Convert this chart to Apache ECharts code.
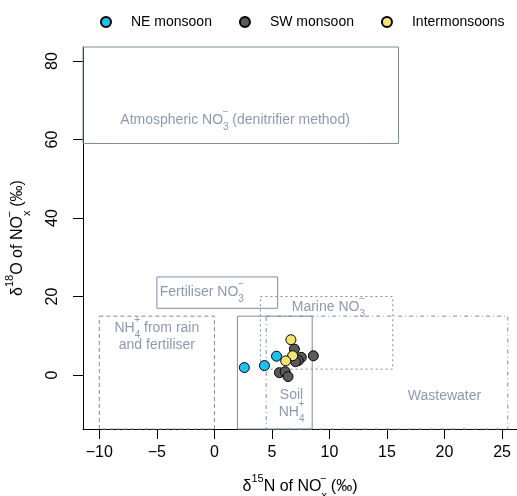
<!DOCTYPE html>
<html>
<head>
<meta charset="utf-8">
<script src="https://cdn.jsdelivr.net/npm/echarts@6/dist/echarts.min.js"></script>
<style>
    html, body { margin: 0; padding: 0; background: #fff; }
    #main { width: 517px; height: 496px; }
</style>
</head>
<body>
<div id="main"></div>
<script>
// sample points [d15N, d18O]
const neMonsoon = [[2.6, 1.9], [4.35, 2.4], [5.4, 4.8]];
const swMonsoon = [[6.95, 6.6], [7.55, 4.5], [7.3, 3.7], [7.05, 3.4], [8.6, 4.9],
    [5.65, 0.6], [6.15, 0.85], [6.4, -0.4]];
const interMonsoons = [[6.65, 9.0], [6.8, 4.9], [6.2, 3.6]];

// source boxes [x1, y1, x2, y2, line style]
const boxes = [
    [-30, 59, 16, 120, 'solid'],     // atmospheric
    [-5, 17, 5.5, 25, 'solid'],      // fertiliser
    [2, -30, 8.5, 15, 'solid'],      // soil
    [-10, -30, 0, 15, 'dashed'],     // NH4 rain
    [4, 1.5, 15.5, 20, 'dotted'],    // marine
    [4.5, -30, 25.5, 15, 'dashdot']  // wastewater
];

// box labels [x, y]
const labelPos = [[1.8, 65], [-1.1, 21.2], [9.9, 17.4], [-5.0, 9.9], [6.7, -7.2], [20.0, -5.3]];
const labelText = [
    'Atmospheric NO{s|}{b|3}{t|−} (denitrifier method)',
    'Fertiliser NO{s|}{b|3}{t|−}',
    'Marine NO{s|}{b|3}{t|−}',
    'NH{s|}{b|4}{t|+} from rain\nand fertiliser',
    'Soil\nNH{s|}{b|4}{t|+}',
    'Wastewater'
];

const xTicks = [-10, -5, 0, 5, 10, 15, 20, 25];
const yTicks = [0, 20, 40, 60, 80];

const XMIN = -11.42, XMAX = 26.3, YMIN = -13.76, YMAX = 83.6;
const boxColor = '#7d8ca1';
const noteColor = '#718196';
const dashes = {
    solid: null,
    dashed: [4, 3],
    dotted: [2, 3],
    dashdot: [4, 3, 1, 3]
};

const clamp = (v, lo, hi) => Math.max(lo, Math.min(hi, v));

const noteRich = {
    s: { width: 0 },
    b: { fontSize: 10, color: noteColor, verticalAlign: 'bottom', padding: [0, 0, -4, 0] },
    t: { fontSize: 10, color: noteColor, verticalAlign: 'top', padding: [-4, 0, 0, -6] }
};

const nameRich = {
    n: { fontSize: 16, color: '#000', fontFamily: 'Liberation Sans' },
    p: { fontSize: 11, color: '#000', fontFamily: 'Liberation Sans', verticalAlign: 'top', padding: [-6, 0, 0, 0] },
    b: { fontSize: 11, color: '#000', fontFamily: 'Liberation Sans', verticalAlign: 'bottom', padding: [0, 0, -6, 0] },
    t: { fontSize: 11, color: '#000', fontFamily: 'Liberation Sans', verticalAlign: 'top', padding: [-6, 0, 0, -7] }
};

const myChart = echarts.init(document.getElementById('main'));
myChart.setOption({
    animation: false,
    textStyle: { fontFamily: 'Liberation Sans' },
    grid: { left: 83, top: 47, right: 0, bottom: 67, containLabel: false, outerBoundsMode: 'none' },
    legend: {
        data: ['NE monsoon', 'SW monsoon', 'Intermonsoons'],
        left: 95,
        top: 10,
        itemWidth: 10,
        itemHeight: 10,
        itemGap: 27,
        icon: 'circle',
        textStyle: { fontSize: 14, color: '#000', padding: [0, 0, 0, 15] }
    },
    xAxis: {
        type: 'value',
        min: XMIN,
        max: XMAX,
        name: '{n|δ}{p|15}{n|N of NO}{b|x}{t|−}{n| (‰)}',
        nameLocation: 'middle',
        nameGap: 50,
        nameTextStyle: { rich: nameRich },
        axisLine: { show: true, onZero: false, lineStyle: { color: '#000', width: 1 } },
        axisTick: { show: true, length: 10, customValues: xTicks, lineStyle: { color: '#000' } },
        axisLabel: {
            customValues: xTicks,
            fontSize: 16,
            color: '#000',
            margin: 16,
            formatter: v => (v < 0 ? '−' + Math.abs(v) : String(v))
        },
        splitLine: { show: false }
    },
    yAxis: {
        type: 'value',
        min: YMIN,
        max: YMAX,
        name: '{n|δ}{p|18}{n|O of NO}{b|x}{t|−}{n| (‰)}',
        nameLocation: 'middle',
        nameRotate: 90,
        nameGap: 57,
        nameTextStyle: { rich: nameRich },
        axisLine: { show: true, onZero: false, lineStyle: { color: '#000', width: 1 } },
        axisTick: { show: true, length: 10, customValues: yTicks, lineStyle: { color: '#000' } },
        axisLabel: {
            customValues: yTicks,
            fontSize: 16,
            color: '#000',
            margin: 22,
            rotate: 90
        },
        splitLine: { show: false }
    },
    series: [
        {
            type: 'custom',
            name: 'boxes',
            silent: true,
            z: 1,
            data: boxes,
            renderItem: (params, api) => {
                const b = boxes[params.dataIndex];
                const p1 = api.coord([clamp(b[0], XMIN, XMAX), clamp(b[1], YMIN, YMAX)]);
                const p2 = api.coord([clamp(b[2], XMIN, XMAX), clamp(b[3], YMIN, YMAX)]);
                return {
                    type: 'rect',
                    shape: {
                        x: Math.min(p1[0], p2[0]),
                        y: Math.min(p1[1], p2[1]),
                        width: Math.abs(p2[0] - p1[0]),
                        height: Math.abs(p2[1] - p1[1])
                    },
                    style: {
                        fill: 'none',
                        stroke: boxColor,
                        lineWidth: 1,
                        lineDash: dashes[b[4]]
                    }
                };
            }
        },
        {
            type: 'scatter',
            name: 'notes',
            silent: true,
            symbolSize: 0,
            z: 2,
            data: labelPos,
            label: {
                show: true,
                position: 'inside',
                fontSize: 14,
                lineHeight: 17,
                color: noteColor,
                align: 'center',
                formatter: p => labelText[p.dataIndex],
                rich: noteRich
            }
        },
        {
            type: 'scatter',
            name: 'SW monsoon',
            data: swMonsoon,
            symbolSize: 10,
            z: 3,
            itemStyle: { color: '#5a5a5a', borderColor: '#000', borderWidth: 1, opacity: 1 }
        },
        {
            type: 'scatter',
            name: 'NE monsoon',
            data: neMonsoon,
            symbolSize: 10,
            z: 3,
            itemStyle: { color: '#1cc2ee', borderColor: '#000', borderWidth: 1, opacity: 1 }
        },
        {
            type: 'scatter',
            name: 'Intermonsoons',
            data: interMonsoons,
            symbolSize: 10,
            z: 4,
            itemStyle: { color: '#f2e46c', borderColor: '#000', borderWidth: 1, opacity: 1 }
        }
    ]
});
</script>
</body>
</html>
